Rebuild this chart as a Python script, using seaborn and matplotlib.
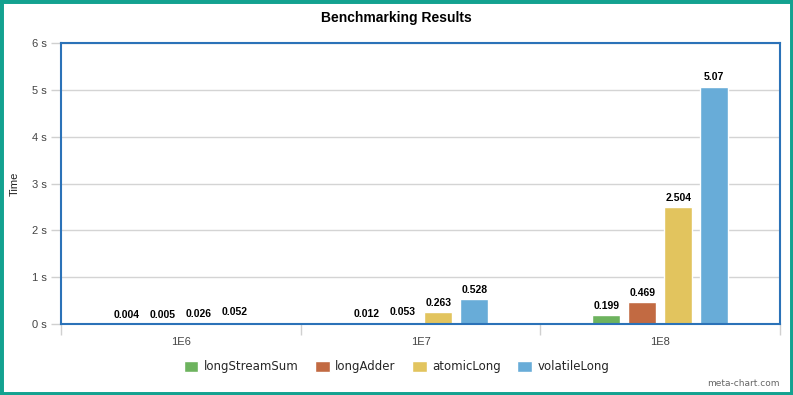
#!/usr/bin/env python3
"""Benchmarking results: grouped bar chart of sum strategies."""

import pandas as pd
import matplotlib.pyplot as plt
import seaborn as sns
from matplotlib.patches import Rectangle

# data
sizes = ["1E6", "1E7", "1E8"]
methods = ["longStreamSum", "longAdder", "atomicLong", "volatileLong"]
long_stream_sum = [0.004, 0.012, 0.199]
long_adder = [0.005, 0.053, 0.469]
atomic_long = [0.026, 0.263, 2.504]
volatile_long = [0.052, 0.528, 5.07]
y_ticks = [0, 1, 2, 3, 4, 5, 6]

colors = ["#6db35e", "#c26a42", "#e2c45e", "#68acd8"]

rows = []
for method, vals in zip(methods, [long_stream_sum, long_adder, atomic_long, volatile_long]):
    for size, v in zip(sizes, vals):
        rows.append({"size": size, "method": method, "time": v})
df = pd.DataFrame(rows)

sns.set_theme(style="white")
plt.rcParams["font.family"] = ["Liberation Sans", "DejaVu Sans"]

fig = plt.figure(figsize=(7.93, 3.95), dpi=100)
ax = fig.add_axes([0.0769, 0.1797, 0.9067, 0.7114])

sns.barplot(data=df, x="size", y="time", hue="method", order=sizes, hue_order=methods,
            palette=colors, width=0.6, gap=0.22, saturation=1, ax=ax, legend=True)

for cont in ax.containers:
    labels = [f"{v:g}" for v in cont.datavalues]
    ax.bar_label(cont, labels=labels, padding=3, fontsize=7.5, fontweight="bold", color="black")

ax.set_ylim(0, 6)
ax.set_xlim(-0.5, 2.5)
ax.set_yticks(y_ticks)
ax.set_yticklabels([f"{t} s" for t in y_ticks], fontsize=8, color="#444444")
ax.set_xticks(range(len(sizes)))
ax.set_xticklabels(sizes, fontsize=8, color="#444444")
ax.set_xticks([-0.5, 0.5, 1.5, 2.5], minor=True)
ax.tick_params(axis="x", which="major", length=0, pad=9)
ax.tick_params(axis="x", which="minor", length=8, color="#d0d0d0", width=1, bottom=True)
ax.tick_params(axis="y", length=7, color="#d0d0d0", width=1, left=True, pad=3)
ax.yaxis.grid(True, color="#d4d4d4", linewidth=1)
ax.set_axisbelow(True)
ax.set_xlabel("")
ax.set_ylabel("Time", fontsize=8, color="#222222")
ax.yaxis.set_label_coords(-0.057, 0.5)
for sp in ax.spines.values():
    sp.set_color("#2b72b8")
    sp.set_linewidth(1.5)

ax.legend(loc="center", bbox_to_anchor=(0.5, 0.071), bbox_transform=fig.transFigure, ncol=4,
          frameon=False, handlelength=1.25, handleheight=1.1,
          columnspacing=1.4, handletextpad=0.45, prop={"family": "DejaVu Sans", "size": 8.5})

fig.text(0.5, 0.955, "Benchmarking Results", ha="center", va="center",
         fontsize=10, fontweight="bold", color="black")
fig.text(0.983, 0.03, "meta-chart.com", ha="right", va="center", fontsize=6.5,
         color="#666666", family="DejaVu Sans")

# teal frame round the whole picture
fig.patches.append(Rectangle((0, 0), 1, 1, transform=fig.transFigure, fill=False,
                             edgecolor="#13a290", linewidth=5, zorder=10))

fig.savefig("out.png", dpi=100)
